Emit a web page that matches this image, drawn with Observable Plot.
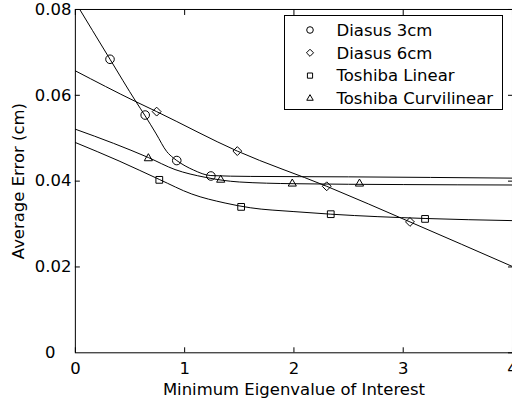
<!DOCTYPE html>
<html><head><meta charset="utf-8">
<script src="https://cdn.jsdelivr.net/npm/d3@7"></script>
<script src="https://cdn.jsdelivr.net/npm/@observablehq/plot@0.6"></script>
<style>
html,body{margin:0;padding:0;background:#fff;overflow:hidden;}
#wrap{position:relative;width:512px;height:401px;overflow:hidden;}
#legend{position:absolute;left:284px;top:15px;}
</style></head><body><div id="wrap"></div>
<script>
// ---- data ----
const seriesNames = ["Diasus 3cm", "Diasus 6cm", "Toshiba Linear", "Toshiba Curvilinear"];
const seriesSymbols = ["circle", "diamond2", "square2", "triangle2"];

// measured points (markers)
const d3cmX = [0.317, 0.639, 0.928, 1.24];
const d3cmY = [0.0684, 0.0554, 0.0448, 0.0412];
const d6cmX = [0.744, 1.482, 2.30, 3.062];
const d6cmY = [0.0562, 0.0470, 0.0388, 0.0305];
const tLinX = [0.768, 1.517, 2.337, 3.20];
const tLinY = [0.0403, 0.0340, 0.0323, 0.0312];
const tCurX = [0.668, 1.33, 1.985, 2.60];
const tCurY = [0.0453, 0.0403, 0.0394, 0.0394];

// fitted curves
const f3cmX = [0, 0.317, 0.555, 0.639, 0.74, 0.836, 0.897, 0.928, 1.08, 1.24, 1.6, 2.5, 4];
const f3cmY = [0.0817, 0.0684, 0.0585, 0.0552, 0.0510, 0.0469, 0.0454, 0.0448, 0.0426, 0.0413, 0.0411, 0.0410, 0.0407];
const f6cmX = [0, 0.555, 0.744, 1.482, 2.30, 3.062, 4];
const f6cmY = [0.0657, 0.0585, 0.0562, 0.0470, 0.0388, 0.0305, 0.0201];
const fLinX = [0, 0.4, 0.768, 1.065, 1.37, 1.6, 2.0, 2.337, 3.2, 4];
const fLinY = [0.0490, 0.0447, 0.0404, 0.0370, 0.0349, 0.0338, 0.0329, 0.0323, 0.0313, 0.0308];
const fCurX = [0, 0.35, 0.668, 0.912, 1.187, 1.5, 2.0, 3.0, 4];
const fCurY = [0.0521, 0.0488, 0.0455, 0.0427, 0.0409, 0.0398, 0.0394, 0.0392, 0.0391];

const xTicks = [0, 1, 2, 3, 4];
const yTicks = [0, 0.02, 0.04, 0.06, 0.08];
const xLabel = "Minimum Eigenvalue of Interest";
const yLabel = "Average Error (cm)";

// ---- build tables ----
const toRows = (xs, ys) => xs.map((x, i) => ({x, y: ys[i]}));
const markerSets = [toRows(d3cmX, d3cmY), toRows(d6cmX, d6cmY), toRows(tLinX, tLinY), toRows(tCurX, tCurY)];
const curveSets = [toRows(f3cmX, f3cmY), toRows(f6cmX, f6cmY), toRows(fLinX, fLinY), toRows(fCurX, fCurY)];
const symbolR = {circle: 4.3, diamond2: 4, square2: 4.3, triangle2: 3.9};

const font = "'DejaVu Sans', sans-serif";
const fs = 16.5;

const marks = [
  Plot.frame({stroke: "#000", strokeWidth: 1}),
  Plot.axisX({anchor: "bottom", ticks: xTicks, tickSize: -5, tickPadding: 15, tickFormat: d => String(d), label: null}),
  Plot.axisX({anchor: "top", ticks: xTicks, tickSize: -5, tickFormat: () => "", label: null}),
  Plot.axisY({anchor: "left", ticks: yTicks.filter(d => d > 0), tickSize: -5, tickPadding: 9, tickFormat: d3.format(".2f"), label: null}),
  Plot.axisY({anchor: "left", ticks: [0], tickSize: 0, tickPadding: 20, tickFormat: () => "0", label: null}),
  Plot.axisY({anchor: "right", ticks: yTicks, tickSize: -5, tickFormat: () => "", label: null})
];
curveSets.forEach(rows => marks.push(Plot.line(rows, {x: "x", y: "y", curve: "monotone-x", stroke: "#000", strokeWidth: 1, clip: true})));
markerSets.forEach((rows, i) => marks.push(Plot.dot(rows, {x: "x", y: "y", symbol: seriesSymbols[i], r: symbolR[seriesSymbols[i]], stroke: "#000", fill: "none", strokeWidth: 1})));
marks.push(Plot.text([xLabel], {frameAnchor: "bottom", dy: 37, textAnchor: "middle", lineAnchor: "middle", fontSize: fs}));
marks.push(Plot.text([yLabel], {frameAnchor: "left", dx: -57, rotate: -90, textAnchor: "middle", lineAnchor: "middle", fontSize: fs}));

const chart = Plot.plot({
  width: 513, height: 401,
  marginLeft: 75, marginRight: 0, marginTop: 9, marginBottom: 48,
  style: {fontFamily: font, fontSize: fs + "px", color: "#000", background: "#fff", overflow: "visible"},
  x: {domain: [0, 4]},
  y: {domain: [0, 0.08]},
  marks
});
const wrap = document.getElementById("wrap");
wrap.appendChild(chart);

// ---- legend ----
const lw = 219, lh = 95;
const leg = d3.select(wrap).append("svg").attr("id", "legend").attr("width", lw).attr("height", lh)
  .style("font-family", font).style("font-size", fs + "px");
leg.append("rect").attr("x", 0.5).attr("y", 0.5).attr("width", lw - 1).attr("height", lh - 1).attr("fill", "#fff").attr("stroke", "#000");
const d3sym = {circle: d3.symbolCircle, diamond2: d3.symbolDiamond2, square2: d3.symbolSquare2, triangle2: d3.symbolTriangle2};
const legR = {circle: 3.3, diamond2: 3.2, square2: 3.3, triangle2: 3.1};
seriesNames.forEach((name, i) => {
  const cy = 15 + i * 22.8;
  const s = seriesSymbols[i];
  leg.append("path").attr("transform", `translate(26,${cy})`)
    .attr("d", d3.symbol(d3sym[s], Math.PI * legR[s] * legR[s])())
    .attr("fill", "none").attr("stroke", "#000");
  leg.append("text").attr("x", 52.5).attr("y", cy).attr("dy", "0.35em").text(name);
});
</script></body></html>
